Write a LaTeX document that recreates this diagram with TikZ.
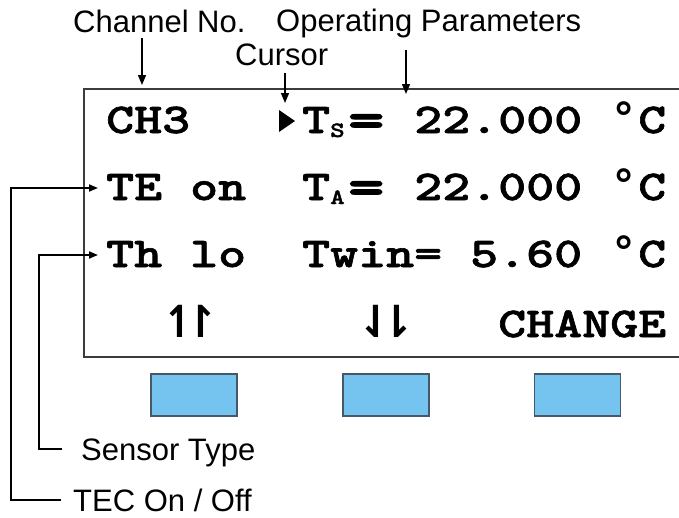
\documentclass[tikz,border=0pt]{standalone}
\usepackage{fontspec}
\setmainfont{Liberation Sans}
\newfontfamily\lcdfont{lmmonolt10-bold.otf}[FakeStretch=1.255,FakeBold=1.5]
\newfontfamily\symfont{DejaVu Sans}
\usetikzlibrary{arrows.meta}
\definecolor{btnfill}{RGB}{117,196,240}
\definecolor{btnedge}{RGB}{72,88,104}
\definecolor{framecol}{RGB}{60,60,60}
\newcommand\lcdsub[1]{\makebox[16pt][l]{\raisebox{-4pt}{\fontsize{22}{22}\selectfont #1}}\makebox[40pt]{\raisebox{-5pt}{\fontsize{56}{56}\selectfont =}}}
\newcommand\degsym{\makebox[28pt]{\symfont\bfseries °}}
\newcommand\harp[2]{\makebox[56pt]{\makebox[21pt]{\symfont\bfseries\fontsize{44}{44}\selectfont #1}\makebox[21pt]{\symfont\bfseries\fontsize{44}{44}\selectfont #2}}}
\begin{document}
\begin{tikzpicture}[x=1pt,y=-1pt,
  lbl/.style={font=\fontsize{31}{31}\selectfont, inner sep=0pt, anchor=base west, text height=22pt, text depth=0pt},
  lcd/.style={font=\lcdfont\fontsize{42.5}{50}\selectfont, inner sep=0pt, anchor=base west, text height=24pt, text depth=0pt},
  arr/.style={-{Triangle[length=10pt,width=8pt]}, line width=1.4pt},
  lead/.style={-{Triangle[length=9pt,width=7pt]}, line width=1.8pt},
  btn/.style={draw=btnedge, line width=1.5pt, fill=btnfill, minimum width=86pt, minimum height=42pt, inner sep=0pt}]
\useasboundingbox (0,0) rectangle (679,517);
% display frame (right edge outside the picture)
\draw[framecol, line width=1.3pt] (679,89) -- (84,89) -- (84,357) -- (679,357);
% labels
\node[lbl] (chan) at (73,32) {Channel No.};
\node[lbl] (ops) at (276,31) {Operating Parameters};
\node[lbl] (curs) at (235,65) {Cursor};
\node[lbl] (sens) at (81,460) {Sensor Type};
\node[lbl] (tec) at (73,511) {TEC On / Off};
% display rows
\node[lcd] (r1) at (106,133) {CH3~~~~T\lcdsub{S} 22.000 \degsym C};
\node[lcd] (r2) at (106,200) {TE on~~T\lcdsub{A} 22.000 \degsym C};
\node[lcd] (r3) at (106,267) {Th lo~~Twin= 5.60 \degsym C};
\node[lcd] (r4) at (106,337) {~~\harp{↿}{↾}~~~~~\harp{⇃}{⇂}~~~CHANGE};
% cursor
\fill (279,110) -- (295,121) -- (279,132) -- cycle;
\coordinate (curtip) at (285,103);
\coordinate (chtip) at (142,85);
\coordinate (optip) at (406,94);
% buttons
\node[btn] (b1) at (194,395) {};
\node[btn] (b2) at (386,395) {};
\node[btn] (b3) at (577.5,395) {};
% arrows
\draw[arr] (chan.base -| chtip) ++(0,6) -- (chtip);
\draw[arr] (curs.base -| curtip) ++(0,8) -- (curtip);
\draw[arr] (ops.base -| optip) ++(0,19) -- (optip);
\draw[lead] (tec.west) ++(-12,0) -- ++(-50,0) |- ([xshift=-8pt]r2.west);
\draw[lead] (sens.west) ++(-19,0) -- ++(-23,0) |- ([xshift=-8pt]r3.west);
\end{tikzpicture}
\end{document}
